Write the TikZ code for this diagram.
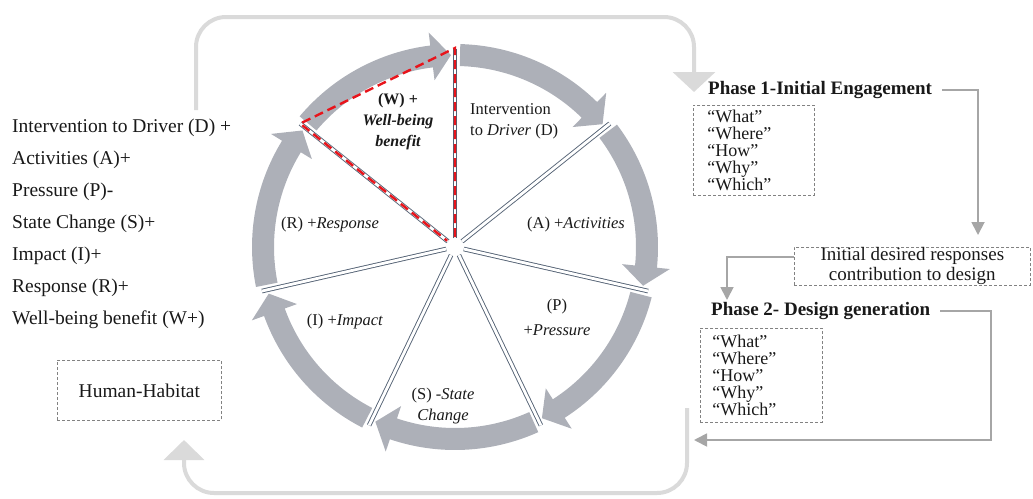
\documentclass[tikz,border=0pt]{standalone}
\usepackage{fontspec}
\setmainfont{Liberation Serif}
\usetikzlibrary{arrows.meta}
\definecolor{ringgray}{RGB}{173,176,184}
\definecolor{spokecol}{RGB}{84,98,116}
\definecolor{loopgray}{RGB}{218,218,218}
\definecolor{arrgray}{RGB}{166,166,166}
\definecolor{boxgray}{RGB}{130,130,130}
\definecolor{redd}{RGB}{232,20,27}
\definecolor{txt}{RGB}{25,25,25}
\begin{document}
\begin{tikzpicture}[x=1pt,y=-1pt,
  every node/.style={text=txt},
  listtext/.style={anchor=west,font=\fontsize{19.5}{20}\selectfont,inner sep=0pt},
  sectortext/.style={font=\fontsize{16.5}{21}\selectfont,align=center,inner sep=0pt},
  phasetext/.style={anchor=west,font=\fontsize{19}{20}\selectfont\bfseries,inner sep=0pt},
  dbox/.style={draw=boxgray,dash pattern=on 3pt off 2pt,line width=0.7pt},
  qbox/.style={dbox,font=\fontsize{18}{17}\selectfont,align=left,anchor=north west,inner ysep=0pt},
  spoke/.style={draw=spokecol,line width=0.9pt,double=white,double distance=2.8pt},
  loopline/.style={draw=loopgray,line width=4pt,rounded corners=30pt},
  phasearrow/.style={draw=arrgray,line width=1.8pt,-{Triangle[width=13pt,length=13pt]}},
  redline/.style={draw=redd,line width=2.4pt,dash pattern=on 9pt off 5pt}
]
\useasboundingbox (0,0) rectangle (1033,498);

% ---- ring ----
\begin{scope}[shift={(455,247)}]
  \foreach \k in {0,...,6}{
    \pgfmathsetmacro\ts{90-\k*51.4286-1.5}
    \pgfmathsetmacro\tt{90-(\k+1)*51.4286+1.2}
    \pgfmathsetmacro\tb{\tt+5.8}
    \fill[ringgray] (\ts:203pt) arc[start angle=\ts,end angle=\tb,radius=203pt]
      -- (\tb:216pt) -- (\tt:192pt) -- (\tb:168pt) -- (\tb:181pt)
      arc[start angle=\tb,end angle=\ts,radius=181pt] -- cycle;
  }
  \foreach \k in {0,...,6}{
    \pgfmathsetmacro\a{90-\k*51.4286}
    \draw[spoke] (\a:9pt) -- (\a:198pt);
  }
  \draw[redline] (90:10pt) -- (90:199pt) -- (141.43:198pt) -- (141.43:10pt);
\end{scope}

% ---- sector labels ----
\node[sectortext,font=\fontsize{16}{21}\selectfont\bfseries] (w1) at (398,101) {(W) +};
\node[sectortext,font=\fontsize{16}{21}\selectfont\bfseries\itshape,anchor=north] (w2) at (398,114) {Well-being\\benefit};
\node[sectortext,align=left,anchor=north west] (d) at (470,103) {Intervention\\to \textit{Driver} (D)};
\node[sectortext] (a) at (576,225) {(A) +\textit{Activities}};
\node[sectortext] (p) at (557,317) {(P)\\[4pt]+\textit{Pressure}};
\node[sectortext] (s) at (443,406) {(S) -\textit{State}\\\textit{Change}};
\node[sectortext] (i) at (345,322) {(I) +\textit{Impact}};
\node[sectortext] (r) at (330,225) {(R) +\textit{Response}};

% ---- left list ----
\node[listtext] (l1) at (12,128) {Intervention to Driver (D) +};
\node[listtext] (l2) at (12,160) {Activities (A)+};
\node[listtext] (l3) at (12,192) {Pressure (P)-};
\node[listtext] (l4) at (12,224) {State Change (S)+};
\node[listtext] (l5) at (12,256) {Impact (I)+};
\node[listtext] (l6) at (12,288) {Response (R)+};
\node[listtext] (l7) at (12,320) {Well-being benefit (W+)};

\node[dbox,font=\fontsize{19.5}{20}\selectfont,minimum width=164pt,minimum height=60pt,anchor=north west] (hh) at (57,360) {Human-Habitat};

% ---- phases ----
\node[phasetext] (ph1) at (708,90) {Phase 1-Initial Engagement};
\node[qbox,text width=93pt,inner xsep=14pt,minimum height=90pt] (q1) at (693,105)
  {“What”\\“Where”\\“How”\\“Why”\\“Which”};
\node[dbox,font=\fontsize{19}{20}\selectfont,align=center,minimum width=236pt,minimum height=38pt,inner ysep=0pt,anchor=north west] (init) at (794,247)
  {Initial desired responses\\contribution to design};
\node[phasetext] (ph2) at (711,311) {Phase 2- Design generation};
\node[qbox,text width=98pt,inner xsep=12pt,minimum height=94pt] (q2) at (700,328)
  {“What”\\“Where”\\“How”\\“Why”\\“Which”};

% ---- phase arrows ----
\coordinate (c1) at (978,235);
\draw[phasearrow] ([xshift=10pt]ph1.east) -| (c1);
\coordinate (c2) at (727,300);
\draw[phasearrow] (init.west |- 0,257) -| (c2);
\coordinate (c3) at (694,440);
\draw[phasearrow] ([xshift=10pt]ph2.east) -| (991,440) -- (c3);

% ---- big loops ----
\coordinate (t0) at (196,110);
\coordinate (t1) at (694,92);
\draw[loopline,-{Triangle[width=42pt,length=20pt]}] (t0) -- (196,17) -- (694,17) -- (t1);
\coordinate (b0) at (687,408);
\coordinate (b1) at (184,440);
\draw[loopline,-{Triangle[width=40pt,length=20pt]}] (b0) -- (687,493) -- (184,493) -- (b1);
\end{tikzpicture}
\end{document}
